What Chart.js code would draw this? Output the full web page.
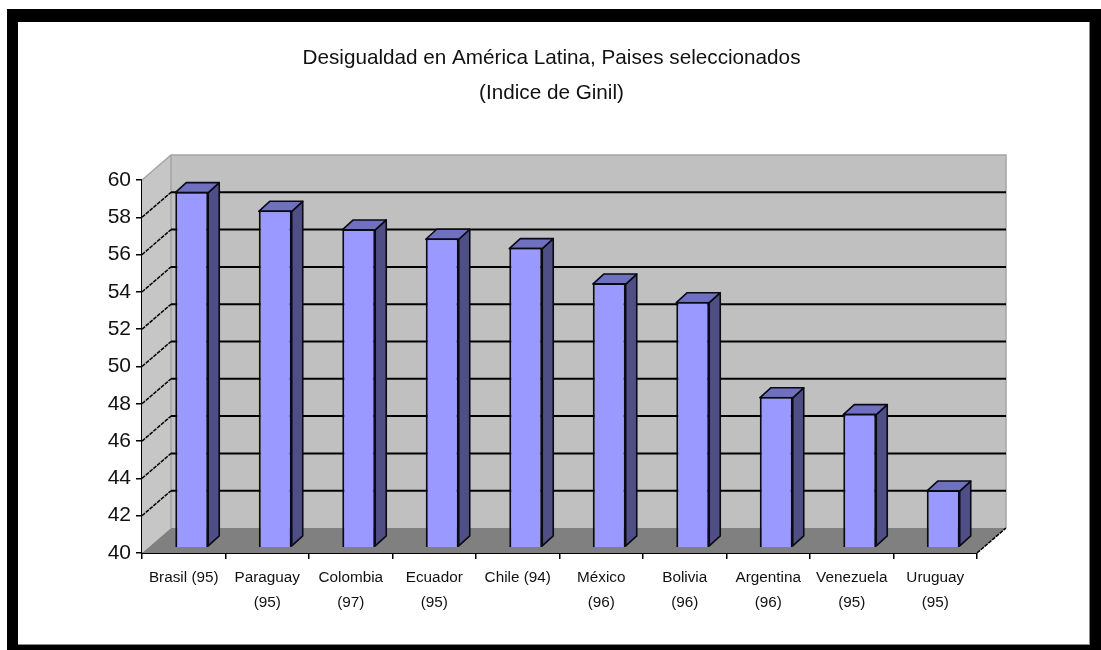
<!DOCTYPE html>
<html><head><meta charset="utf-8">
<style>
html,body{margin:0;padding:0;background:#fff;width:1101px;height:650px;overflow:hidden}
#outer{position:absolute;left:7px;top:9px;width:1094px;height:641px;background:#000}
#inner{position:absolute;left:18px;top:22px;width:1071px;height:622px;background:#fff;overflow:hidden;border-right:1px solid #8a8a8a;border-bottom:1px solid #8a8a8a}
canvas{position:absolute;left:-18px;top:-22px;filter:blur(0.45px)}
</style>
<script src="https://cdn.jsdelivr.net/npm/chart.js@4"></script>
</head><body>
<div id="outer"></div>
<div id="inner"><canvas id="c" width="1101" height="650"></canvas></div>
<script>
const titleLines = ["Desigualdad en América Latina, Paises seleccionados", "(Indice de Ginil)"];
const categories = ["Brasil (95)", ["Paraguay","(95)"], ["Colombia","(97)"], ["Ecuador","(95)"], "Chile (94)", ["México","(96)"], ["Bolivia","(96)"], ["Argentina","(96)"], ["Venezuela","(95)"], ["Uruguay","(95)"]];
const giniValues = [59, 58, 57, 56.5, 56, 54.1, 53.1, 48, 47.1, 43];
const axisMin = 40, axisMax = 60, axisStep = 2;

const WALL = {dx: 29, dy: 25};
const BAR = {shiftX: 8, shiftY: 7, dx: 11, dy: 10};

const depthPlugin = {
  id: 'depth',
  beforeDraw(chart) {
    // centre the title on the full picture rather than on the padded area
    chart.titleBlock.left = 2;
    chart.titleBlock.right = 1101;
  },
  beforeDatasetsDraw(chart) {
    const {ctx, chartArea: a, scales: {y}} = chart;
    const bx = a.left + WALL.dx, by = y.getPixelForValue(axisMin) - WALL.dy, tx = y.getPixelForValue(axisMax) - WALL.dy;
    const b = a.bottom, r = a.right;
    ctx.save();
    ctx.fillStyle = '#c0c0c0';
    ctx.fillRect(bx, tx, r + WALL.dx - bx, by - tx);
    ctx.fillStyle = '#c6c6c6';
    ctx.beginPath(); ctx.moveTo(a.left, a.top); ctx.lineTo(bx, tx); ctx.lineTo(bx, by); ctx.lineTo(a.left, b); ctx.closePath(); ctx.fill();
    ctx.fillStyle = '#808080';
    ctx.beginPath(); ctx.moveTo(a.left, b); ctx.lineTo(bx, by); ctx.lineTo(r + WALL.dx, by); ctx.lineTo(r, b); ctx.closePath(); ctx.fill();
    ctx.strokeStyle = '#a4a4a4'; ctx.lineWidth = 1.5;
    ctx.beginPath(); ctx.moveTo(a.left, a.top); ctx.lineTo(bx, tx); ctx.lineTo(r + WALL.dx, tx); ctx.lineTo(r + WALL.dx, by); ctx.moveTo(bx, tx); ctx.lineTo(bx, by); ctx.stroke();
    for (const t of y.ticks) {
      if (t.value === axisMin || t.value === axisMax) continue;
      const p = y.getPixelForValue(t.value);
      ctx.strokeStyle = '#000';
      ctx.lineWidth = 2; ctx.setLineDash([]);
      ctx.beginPath(); ctx.moveTo(bx, p - WALL.dy); ctx.lineTo(r + WALL.dx, p - WALL.dy); ctx.stroke();
      ctx.lineWidth = 1.5; ctx.setLineDash([4, 1]);
      ctx.beginPath(); ctx.moveTo(a.left, p); ctx.lineTo(bx, p - WALL.dy); ctx.stroke();
    }
    ctx.lineWidth = 1.5; ctx.setLineDash([4, 1]); ctx.strokeStyle = '#000';
    ctx.beginPath(); ctx.moveTo(r, b); ctx.lineTo(r + WALL.dx, by); ctx.stroke();
    ctx.setLineDash([]);
    const meta = chart.getDatasetMeta(0);
    ctx.translate(BAR.shiftX, -BAR.shiftY);
    ctx.lineWidth = 1.6; ctx.strokeStyle = '#0a0a14'; ctx.lineJoin = 'round';
    for (const el of meta.data) {
      const l = el.x - el.width / 2, rr = el.x + el.width / 2, t = el.y + 1, bt = el.base - 1;
      ctx.fillStyle = '#4f4f85';
      ctx.beginPath(); ctx.moveTo(rr, t); ctx.lineTo(rr + BAR.dx, t - BAR.dy); ctx.lineTo(rr + BAR.dx, bt - BAR.dy); ctx.lineTo(rr, bt); ctx.closePath(); ctx.fill(); ctx.stroke();
      ctx.fillStyle = '#7070c0';
      ctx.beginPath(); ctx.moveTo(l, t); ctx.lineTo(l + BAR.dx, t - BAR.dy); ctx.lineTo(rr + BAR.dx, t - BAR.dy); ctx.lineTo(rr, t); ctx.closePath(); ctx.fill(); ctx.stroke();
    }
    ctx.restore();
    ctx.save();
    ctx.translate(BAR.shiftX, -BAR.shiftY);
  },
  afterDatasetsDraw(chart) { chart.ctx.restore(); }
};

new Chart(document.getElementById('c'), {
  type: 'bar',
  data: {labels: categories, datasets: [{
    data: giniValues,
    base: axisMin - 0.05,
    backgroundColor: '#9999ff',
    borderColor: '#0a0a14',
    borderWidth: 2,
    categoryPercentage: 1,
    barPercentage: 0.395,
    clip: false
  }]},
  options: {
    responsive: false, animation: false, events: [],
    layout: {padding: {left: 82, right: 124, top: 0, bottom: 17}},
    plugins: {
      legend: {display: false}, tooltip: {enabled: false},
      title: {display: true, text: titleLines, color: '#111', fullSize: true,
        font: {family: 'Liberation Sans', size: 20.7, weight: 'normal', lineHeight: 35/20.7},
        padding: {top: 41, bottom: 69}}
    },
    scales: {
      x: {
        afterFit(s) { s.height = 80; },
        grid: {drawOnChartArea: false, drawTicks: true, tickLength: 6, color: '#000', lineWidth: 1.5},
        border: {color: '#000', width: 2},
        ticks: {color: '#111', maxRotation: 0, autoSkip: false, padding: 6,
          font: {family: 'Liberation Sans', size: 15.3, lineHeight: 25/15.3}}
      },
      y: {
        min: axisMin, max: axisMax,
        afterFit(s) { s.width = 60; },
        grid: {drawOnChartArea: false, drawTicks: true, tickLength: 6, color: '#000', lineWidth: 1.5},
        border: {color: '#000', width: 2},
        ticks: {stepSize: axisStep, color: '#111', padding: 5, font: {family: 'Liberation Sans', size: 21}}
      }
    }
  },
  plugins: [depthPlugin]
});
</script>
</body></html>
